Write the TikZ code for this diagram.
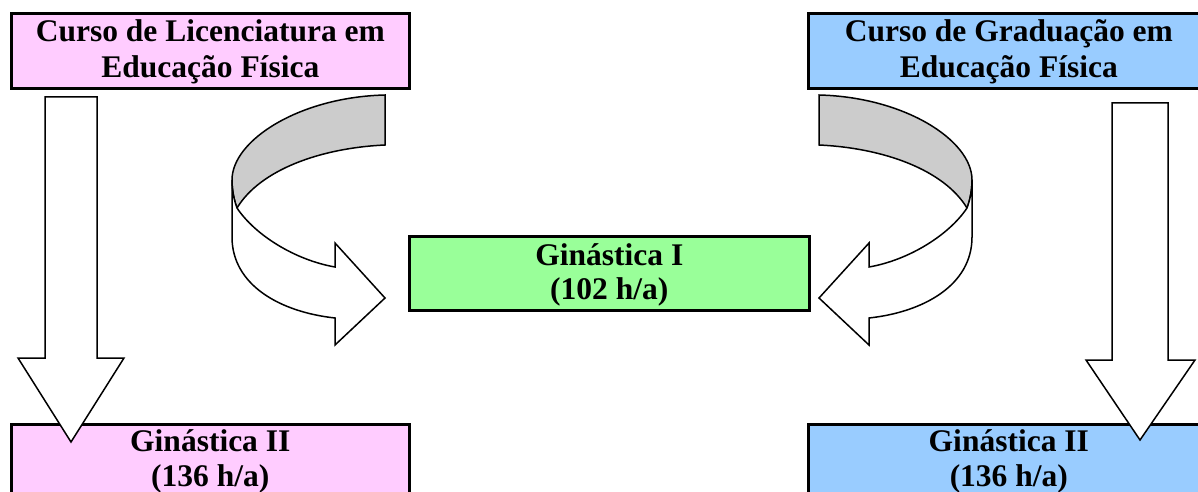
\documentclass[tikz,border=0pt]{standalone}
\usepackage{fontspec}
\setmainfont{Liberation Serif}
\definecolor{pinkfill}{HTML}{FFCCFF}
\definecolor{bluefill}{HTML}{99CCFF}
\definecolor{greenfill}{HTML}{99FF99}
\definecolor{bandgray}{HTML}{CCCCCC}
\begin{document}
\begin{tikzpicture}[x=1pt,y=-1pt,
  boxnode/.style={draw=black, line width=2.6pt, rectangle, inner sep=0pt, anchor=north west},
  txt/.style={font=\fontsize{31.5}{36}\selectfont\bfseries, inner sep=0pt, anchor=base},
  blockarrow/.style={draw=black, line width=1.5pt, line join=miter, fill=white},
  backband/.style={draw=black, line width=1.5pt, line join=miter, fill=bandgray},
  curvedarr/.pic={
    \path[backband] (385,95) .. controls (300,97) and (232,140) .. (232,180)
      .. controls (232,190) and (234,200) .. (237,208)
      .. controls (260,170) and (320,148) .. (385,145) -- cycle;
    \path[blockarrow] (232,180) .. controls (232,190) and (234,200) .. (237,208)
      .. controls (255,235) and (295,260) .. (335,267) -- (335,243) -- (385,298)
      -- (335,345) -- (335,318) .. controls (280,312) and (232,285) .. (232,237) -- cycle;
  }]
\useasboundingbox (0,0) rectangle (1198,492);
\begin{scope}
\clip (0,0) rectangle (1198,492);
% boxes
\node[boxnode, fill=pinkfill, minimum width=398pt, minimum height=75pt] (lic) at (10,12) {};
\node[boxnode, fill=bluefill, minimum width=401pt, minimum height=75pt] (grad) at (807,12) {};
\node[boxnode, fill=greenfill, minimum width=400pt, minimum height=74pt] (gin1) at (408,235) {};
\node[boxnode, fill=pinkfill, minimum width=398pt, minimum height=90pt] (gin2l) at (10,423) {};
\node[boxnode, fill=bluefill, minimum width=401pt, minimum height=90pt] (gin2r) at (807,423) {};
% straight arrows
\path[blockarrow] (45,97) -- (97,97) -- (97,358) -- (124,358) -- (71,442) -- (18,358) -- (45,358) -- cycle;
\path[blockarrow] (1112,103) -- (1168,103) -- (1168,360) -- (1195,360) -- (1140,440) -- (1086,360) -- (1112,360) -- cycle;
% curved arrows
\pic at (0,0) {curvedarr};
\pic[xscale=-1] at (1204,0) {curvedarr};
% texts
\node[txt] (lic1) at (lic.center |- 0,42) {Curso de Licenciatura em};
\node[txt] (lic2) at (lic.center |- 0,78) {Educação Física};
\node[txt] (grad1) at (grad.center |- 0,42) {Curso de Graduação em};
\node[txt] (grad2) at (grad.center |- 0,78) {Educação Física};
\node[txt] (gin1a) at (gin1.center |- 0,265) {Ginástica I};
\node[txt] (gin1b) at (gin1.center |- 0,299) {(102 h/a)};
\node[txt] (gin2la) at (gin2l.center |- 0,451) {Ginástica II};
\node[txt] (gin2lb) at (gin2l.center |- 0,486) {(136 h/a)};
\node[txt] (gin2ra) at (gin2r.center |- 0,451) {Ginástica II};
\node[txt] (gin2rb) at (gin2r.center |- 0,486) {(136 h/a)};
\end{scope}
\end{tikzpicture}
\end{document}
